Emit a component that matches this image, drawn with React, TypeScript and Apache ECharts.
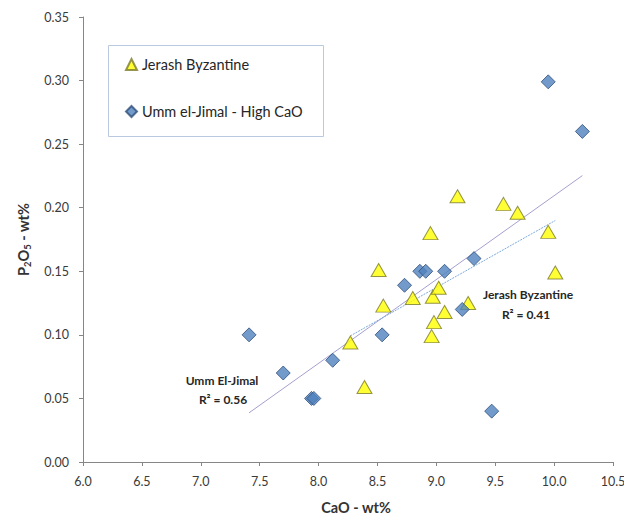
import React, { useEffect, useRef } from "react";
import * as echarts from "echarts";

const jerashCaO = [8.27, 8.39, 8.51, 8.55, 8.80, 8.95, 8.97, 9.02, 9.07, 8.98, 8.96, 9.18, 9.27, 9.57, 9.69, 9.95, 10.01];
const jerashP2O5 = [0.094, 0.059, 0.151, 0.123, 0.129, 0.180, 0.130, 0.137, 0.118, 0.110, 0.099, 0.209, 0.125, 0.203, 0.196, 0.181, 0.149];

const ummCaO = [7.41, 7.70, 7.94, 7.96, 8.12, 8.54, 8.73, 8.86, 8.91, 9.07, 9.22, 9.32, 9.47, 9.95, 10.24];
const ummP2O5 = [0.100, 0.070, 0.050, 0.050, 0.080, 0.100, 0.139, 0.150, 0.150, 0.150, 0.120, 0.160, 0.040, 0.299, 0.260];

const seriesNames = ["Jerash Byzantine", "Umm el-Jimal - High CaO"];
const trendLabels = ["Jerash Byzantine", "R² = 0.41", "Umm El-Jimal", "R² = 0.56"];

function fitLine(xs: number[], ys: number[]) {
  const n = xs.length;
  const mx = xs.reduce((a, b) => a + b, 0) / n;
  const my = ys.reduce((a, b) => a + b, 0) / n;
  let sxy = 0;
  let sxx = 0;
  for (let i = 0; i < n; i++) {
    sxy += (xs[i] - mx) * (ys[i] - my);
    sxx += (xs[i] - mx) * (xs[i] - mx);
  }
  const slope = sxy / sxx;
  const icpt = my - slope * mx;
  const x0 = Math.min(...xs);
  const x1 = Math.max(...xs);
  return [
    [x0, icpt + slope * x0],
    [x1, icpt + slope * x1],
  ];
}

const FONT = "Lato, 'Open Sans', sans-serif";

export default function App() {
  const ref = useRef<HTMLDivElement>(null);
  useEffect(() => {
    if (!ref.current) return;
    const chart = echarts.init(ref.current, null, { renderer: "svg" });
    const jerashPts = jerashCaO.map((x, i) => [x, jerashP2O5[i]]);
    const ummPts = ummCaO.map((x, i) => [x, ummP2O5[i]]);
    const annStyle = (t: string) => ({
      text: t,
      fill: "#262626",
      font: `bold 12px ${FONT}`,
      textAlign: "center",
      textVerticalAlign: "middle",
    });
    chart.setOption({
      animation: false,
      backgroundColor: "#ffffff",
      textStyle: { fontFamily: FONT },
      grid: { left: 83, right: 11, top: 17, bottom: 53, outerBoundsMode: "none" },
      xAxis: {
        type: "value",
        min: 6,
        max: 10.5,
        interval: 0.5,
        splitLine: { show: false },
        axisLine: { show: true, lineStyle: { color: "#868686", width: 1 } },
        axisTick: { show: true, length: 4, lineStyle: { color: "#868686" } },
        axisLabel: {
          color: "#3a3a3a",
          fontSize: 12.5,
          fontFamily: FONT,
          margin: 13,
          formatter: (v: number) => v.toFixed(1),
        },
      },
      yAxis: {
        type: "value",
        min: 0,
        max: 0.35,
        interval: 0.05,
        splitLine: { show: false },
        axisLine: { show: true, lineStyle: { color: "#868686", width: 1 } },
        axisTick: { show: true, length: 4, lineStyle: { color: "#868686" } },
        axisLabel: {
          color: "#3a3a3a",
          fontSize: 12.5,
          fontFamily: FONT,
          margin: 14,
          formatter: (v: number) => v.toFixed(2),
        },
        name: "P{sub|2}O{sub|5} - wt%",
        nameLocation: "middle",
        nameRotate: 90,
        nameGap: 51,
        nameTextStyle: {
          color: "#333333",
          fontSize: 14.5,
          fontWeight: "bold",
          fontFamily: FONT,
          rich: {
            sub: { fontSize: 9.5, fontWeight: "bold", color: "#333333", fontFamily: FONT, verticalAlign: "bottom", padding: [8, 0, 0, 0] },
          },
        },
      },
      legend: {
        show: true,
        orient: "vertical",
        left: 120,
        top: 52,
        itemGap: 32,
        itemWidth: 11,
        itemHeight: 11,
        data: seriesNames,
        textStyle: { color: "#262626", fontSize: 14.5, fontFamily: FONT },
      },
      series: [
        {
          name: "trendUmm",
          type: "line",
          data: fitLine(ummCaO, ummP2O5),
          showSymbol: false,
          symbol: "none",
          silent: true,
          lineStyle: { color: "#a59fd0", width: 1 },
          z: 1,
        },
        {
          name: "trendJerash",
          type: "line",
          data: fitLine(jerashCaO, jerashP2O5),
          showSymbol: false,
          symbol: "none",
          silent: true,
          lineStyle: { color: "#7eaadc", width: 1, type: [2, 1] },
          z: 1,
        },
        {
          name: seriesNames[0],
          type: "scatter",
          data: jerashPts,
          symbol: "triangle",
          symbolSize: [15, 13],
          itemStyle: { color: "#ffff00", borderColor: "#7a7a2a", borderWidth: 1 },
          z: 3,
        },
        {
          name: seriesNames[1],
          type: "scatter",
          data: ummPts,
          symbol: "diamond",
          symbolSize: [14, 14],
          itemStyle: { color: "#4f81bd", borderColor: "#2f4f7a", borderWidth: 1 },
          z: 4,
        },
      ],
      graphic: [
        {
          type: "rect",
          shape: { x: 108.5, y: 45.5, width: 215, height: 91 },
          style: { fill: "none", stroke: "#b9c9e0", lineWidth: 1 },
          z: 0,
        },
        {
          type: "text",
          x: 356,
          y: 507,
          style: {
            text: "CaO - wt%",
            fill: "#333333",
            font: `bold 14.5px ${FONT}`,
            textAlign: "center",
            textVerticalAlign: "middle",
          },
        },
        { type: "text", x: 528, y: 294, style: annStyle(trendLabels[0]) },
        { type: "text", x: 526, y: 314, style: annStyle(trendLabels[1]) },
        { type: "text", x: 222, y: 380, style: annStyle(trendLabels[2]) },
        { type: "text", x: 223, y: 399, style: annStyle(trendLabels[3]) },
      ],
    });
    return () => chart.dispose();
  }, []);
  return (
    <div
      ref={ref}
      style={{ position: "fixed", left: 0, top: 0, width: 624, height: 515, background: "#fff" }}
    />
  );
}
